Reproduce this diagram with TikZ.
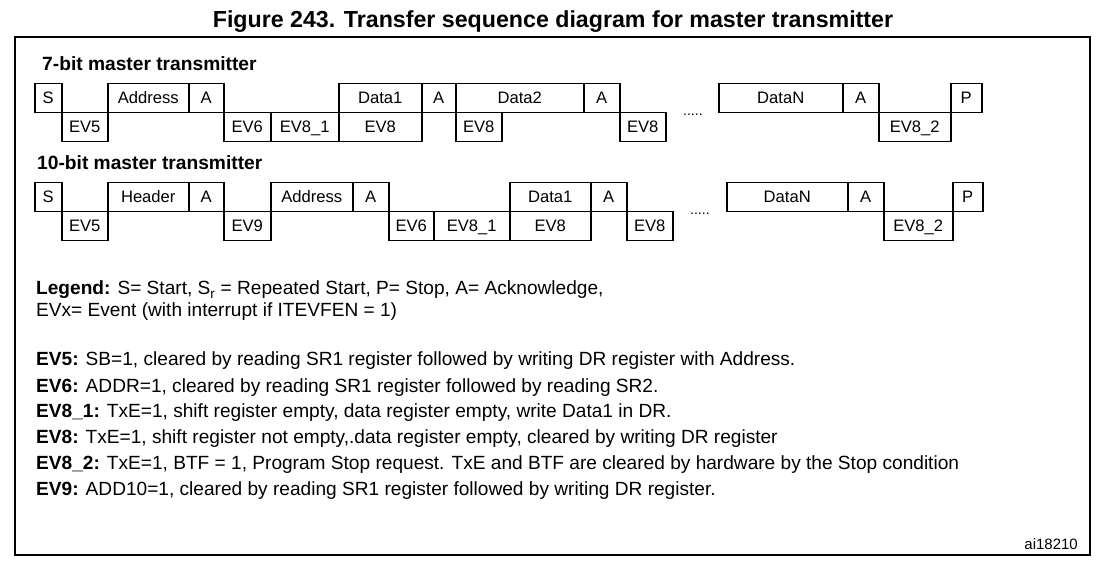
\documentclass[tikz,border=0pt]{standalone}
\usepackage{fontspec}
\setmainfont{Liberation Sans}
\begin{document}
\begin{tikzpicture}[x=1pt,y=-1pt,
  bx/.style={draw,line width=1.5pt,inner sep=0pt,anchor=north west,
    font=\fontsize{16.6}{19}\selectfont,text height=13pt,text depth=3pt},
  thinedge/.style={line width=0.6pt},
  heading/.style={anchor=base west,inner sep=0pt,font=\fontsize{19.2}{22}\selectfont\bfseries},
  legend/.style={anchor=base west,inner sep=0pt,font=\fontsize{19.1}{22}\selectfont},
  dotsx/.style={anchor=base west,inner sep=0pt,font=\fontsize{14}{16}\selectfont}
]
\useasboundingbox (0,0) rectangle (1114,561);
\newcommand{\bxat}[6]{\node[bx,minimum width={#3-#2},minimum height={#5-#4}] (#1) at (#2,#4) {#6};}
\newcommand{\thintopof}[1]{%
  \draw[white,line width=1.6pt,shorten <=0.8pt,shorten >=0.8pt] (#1.north west) -- (#1.north east);
  \draw[thinedge] (#1.north west) -- (#1.north east);}
\node[anchor=base,inner sep=0pt,font=\fontsize{23.2}{27}\selectfont\bfseries] (title) at (553,28) {Figure 243. Transfer sequence diagram for master transmitter};
\draw[line width=1.5pt] (15,37) rectangle (1090,555);
% 7-bit
\node[heading] (h7) at (42,71) {7-bit master transmitter};
\bxat{a1}{34}{61}{83}{112}{S}
\bxat{a2}{107}{188}{83}{112}{Address}
\bxat{a3}{188}{223}{83}{112}{A}
\bxat{a4}{338}{421}{83}{112}{Data1}
\bxat{a5}{421}{455}{83}{112}{A}
\bxat{a6}{455}{583}{83}{112}{Data2}
\thintopof{a6}
\bxat{a7}{583}{619}{83}{112}{A}
\bxat{a8}{718}{842}{83}{112}{DataN}
\bxat{a9}{842}{878}{83}{112}{A}
\bxat{a10}{950}{981}{83}{112}{P}
\bxat{b1}{61}{107}{112}{141}{EV5}
\bxat{b2}{223}{270}{112}{141}{EV6}
\bxat{b3}{270}{338}{112}{141}{EV8\_1}
\bxat{b4}{338}{421}{112}{141}{EV8}
\bxat{b5}{455}{501}{112}{141}{EV8}
\bxat{b6}{619}{665}{112}{141}{EV8}
\bxat{b7}{878}{950}{112}{141}{EV8\_2}
\node[dotsx] (d7) at (683,116) {.....};
% 10-bit
\node[heading] (h10) at (37,170) {10-bit master transmitter};
\bxat{c1}{34}{61}{182}{211}{S}
\bxat{c2}{107}{188}{182}{211}{Header}
\bxat{c3}{188}{223}{182}{211}{A}
\bxat{c4}{270}{352}{182}{211}{Address}
\bxat{c5}{352}{388}{182}{211}{A}
\bxat{c6}{509}{590}{182}{211}{Data1}
\thintopof{c6}
\bxat{c7}{590}{626}{182}{211}{A}
\bxat{c8}{726}{847}{182}{211}{DataN}
\bxat{c9}{847}{883}{182}{211}{A}
\bxat{c10}{952}{982}{182}{211}{P}
\bxat{e1}{61}{107}{211}{240}{EV5}
\bxat{e2}{223}{270}{211}{240}{EV9}
\bxat{e3}{388}{433}{211}{240}{EV6}
\bxat{e4}{433}{509}{211}{240}{EV8\_1}
\bxat{e5}{509}{590}{211}{240}{EV8}
\bxat{e6}{626}{672}{211}{240}{EV8}
\bxat{e7}{883}{952}{211}{240}{EV8\_2}
\node[dotsx] (d10) at (690,215) {.....};
% legend
\node[legend] (l1) at (36,295) {\textbf{Legend:} S= Start, S\textsubscript{r} = Repeated Start, P= Stop, A= Acknowledge,};
\node[legend] (l2) at (36,317) {EVx= Event (with interrupt if ITEVFEN = 1)};
\node[legend] (t1) at (36,366) {\textbf{EV5:} SB=1, cleared by reading SR1 register followed by writing DR register with Address.};
\node[legend] (t2) at (36,392) {\textbf{EV6:} ADDR=1, cleared by reading SR1 register followed by reading SR2.};
\node[legend] (t3) at (36,417) {\textbf{EV8\_1:} TxE=1, shift register empty, data register empty, write Data1 in DR.};
\node[legend] (t4) at (36,443) {\textbf{EV8:} TxE=1, shift register not empty,.data register empty, cleared by writing DR register};
\node[legend] (t5) at (36,469) {\textbf{EV8\_2:} TxE=1, BTF = 1, Program Stop request. TxE and BTF are cleared by hardware by the Stop condition};
\node[legend] (t6) at (36,495) {\textbf{EV9:} ADD10=1, cleared by reading SR1 register followed by writing DR register.};
\node[anchor=base east,inner sep=0pt,font=\fontsize{15}{17}\selectfont] (id) at (1078,549) {ai18210};
\end{tikzpicture}
\end{document}
